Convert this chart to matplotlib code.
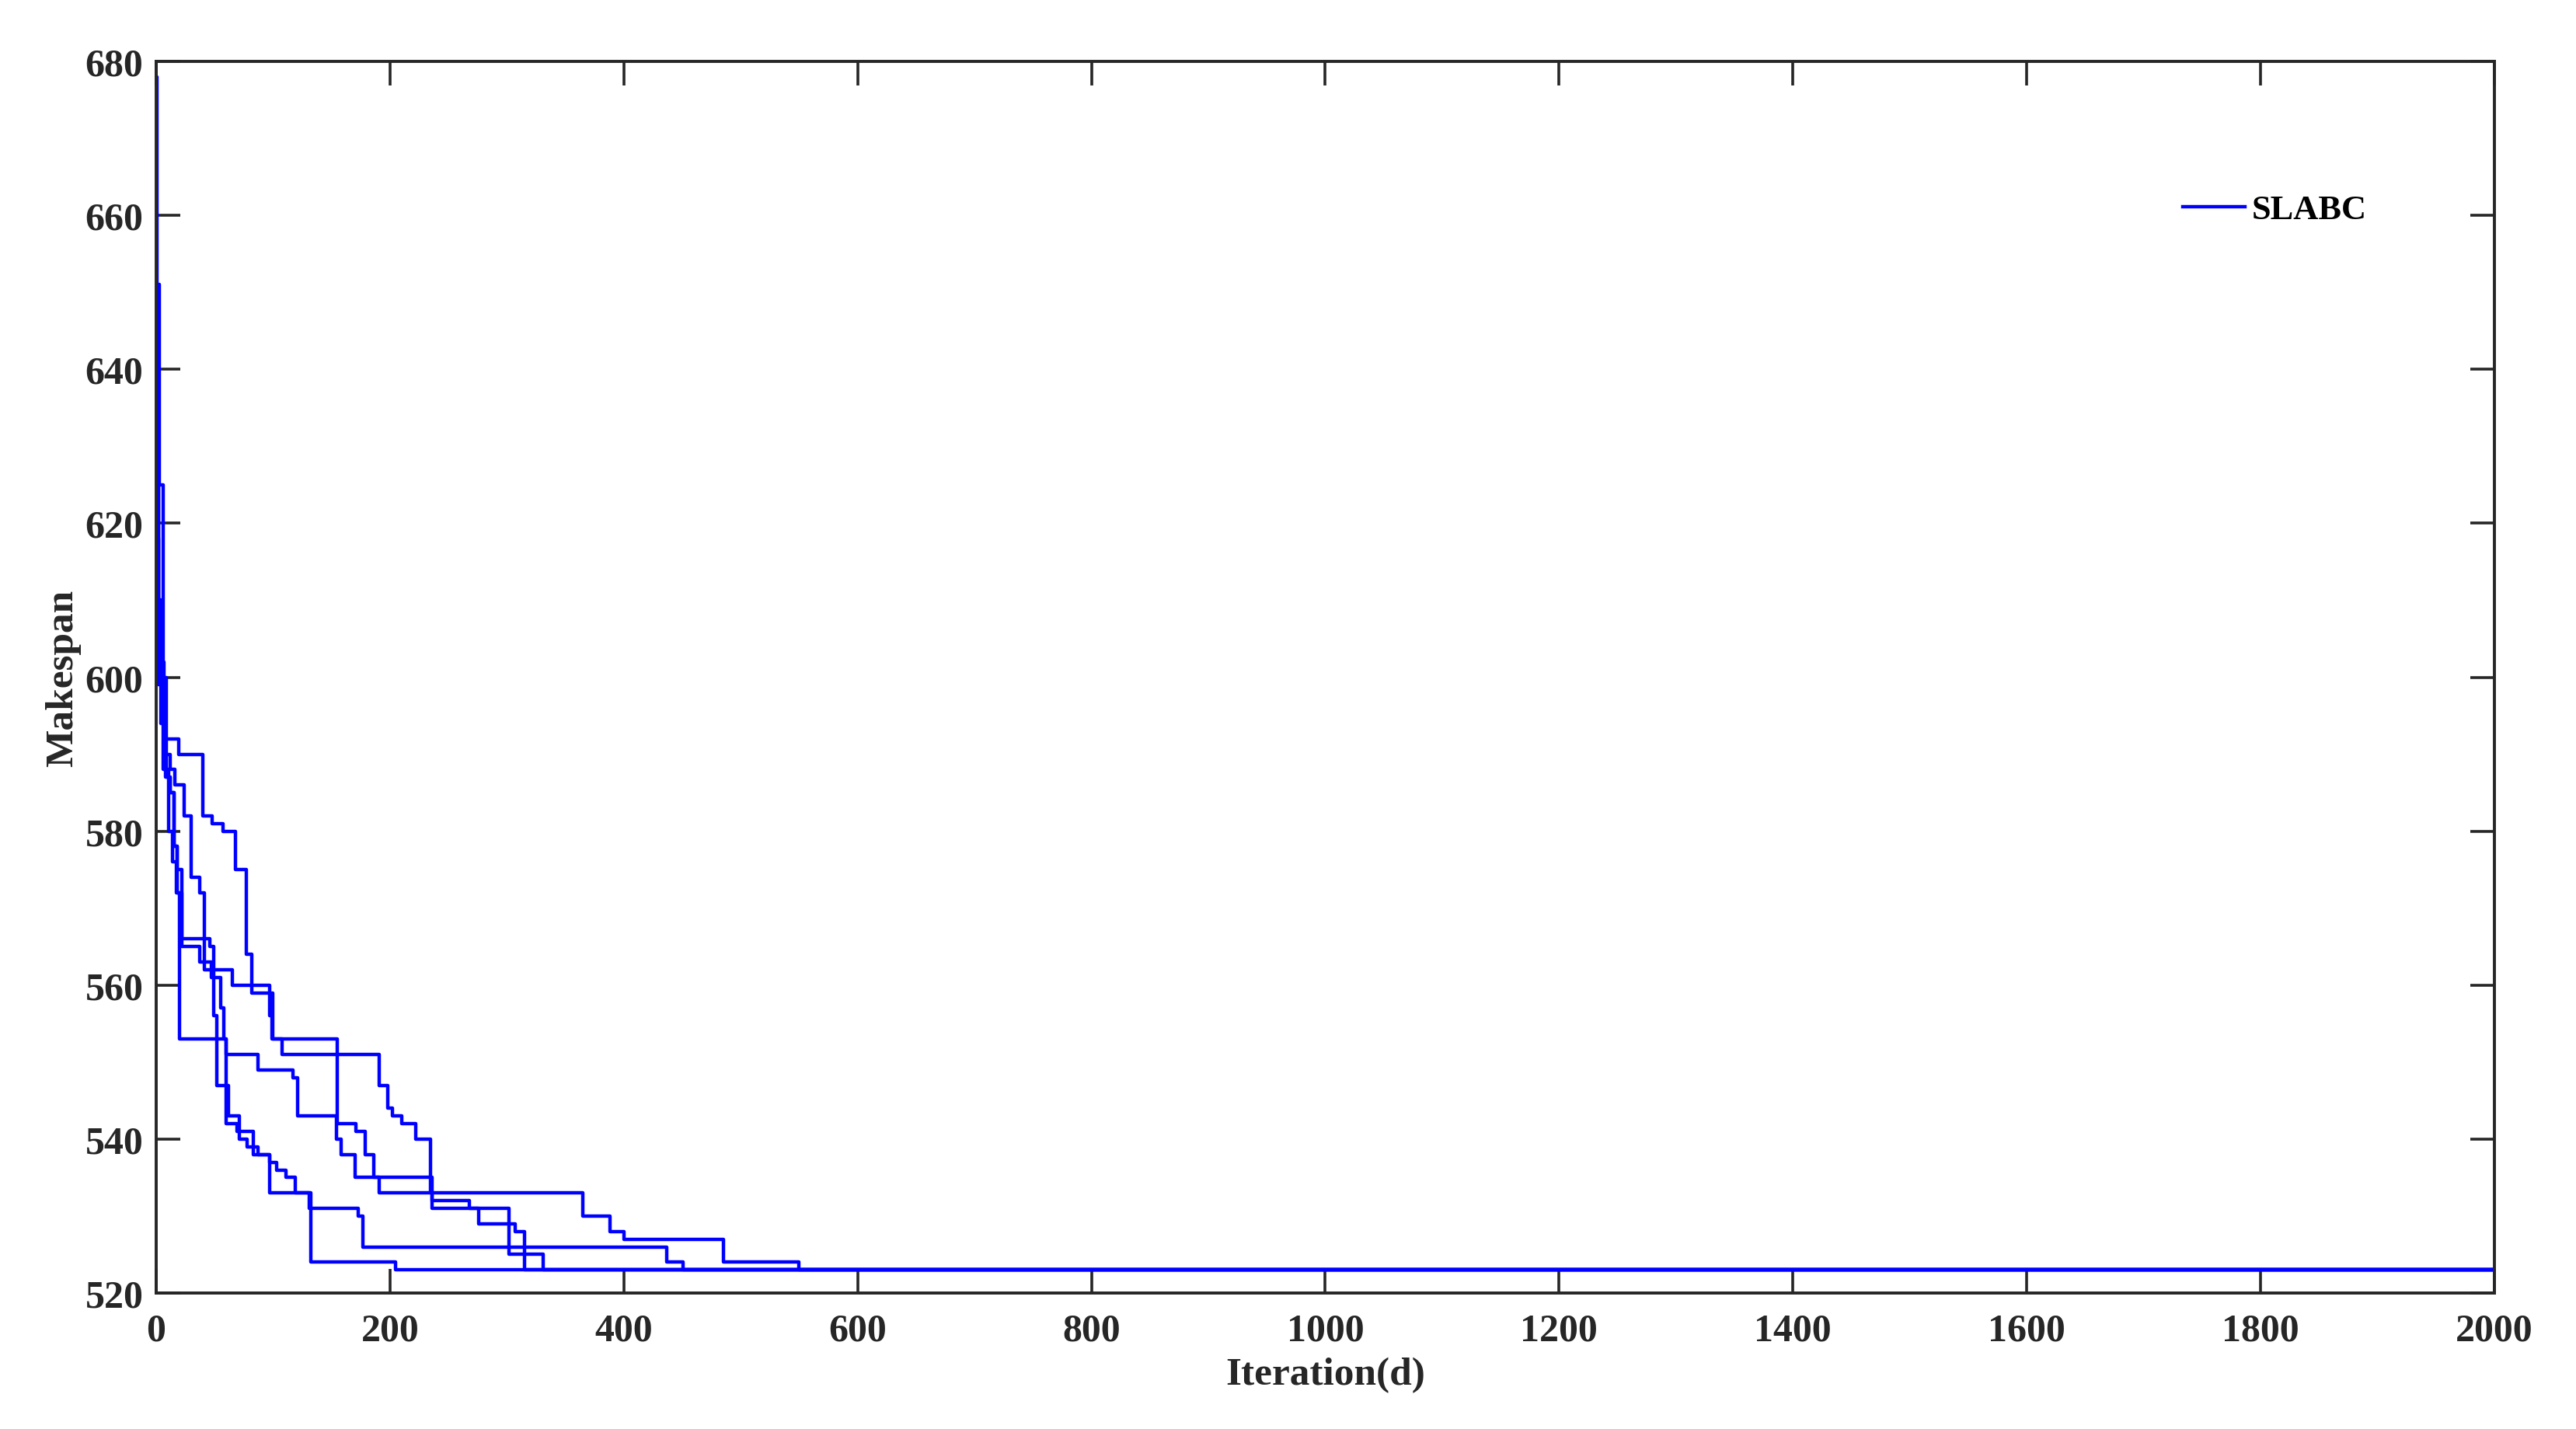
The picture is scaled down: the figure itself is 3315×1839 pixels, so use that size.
import numpy as np
import matplotlib
matplotlib.use('Agg')
import matplotlib.pyplot as plt

# ── Convergence runs (breakpoints of best makespan) ──────────────────────────
max_iter = 2000

run1_iter = [0, 1, 2, 5, 8, 11, 14, 17, 22, 46, 49, 52, 62, 71, 78, 87, 97, 132, 205]
run1_val  = [678, 640, 602, 599, 588, 580, 576, 572, 566, 565, 556, 547, 543, 540, 539, 538, 533, 524, 523]

run2_iter = [0, 3, 6, 9, 12, 15, 18, 22, 37, 47, 55, 58, 60, 69, 83, 97, 103, 111, 119, 131, 173, 177, 437, 451]
run2_val  = [651, 625, 600, 587, 585, 578, 575, 565, 563, 561, 557, 553, 542, 541, 538, 537, 536, 535, 533, 531, 530, 526, 524, 523]

run3_iter = [0, 2, 4, 7, 19, 40, 48, 57, 68, 77, 82, 100, 155, 171, 179, 186, 236, 302, 331]
run3_val  = [625, 610, 602, 592, 590, 582, 581, 580, 575, 564, 559, 553, 542, 541, 538, 535, 531, 525, 523]

run4_iter = [0, 2, 4, 8, 12, 16, 24, 30, 37, 41, 65, 97, 99, 108, 191, 198, 202, 210, 222, 235, 365, 388, 400, 485, 550]
run4_val  = [618, 602, 594, 590, 588, 586, 582, 574, 572, 562, 560, 556, 553, 551, 547, 544, 543, 542, 540, 533, 530, 528, 527, 524, 523]

run5_iter = [0, 2, 6, 8, 12, 15, 18, 20, 60, 87, 117, 121, 154, 158, 170, 191, 236, 268, 276, 307, 315]
run5_val  = [602, 599, 588, 587, 585, 578, 572, 553, 551, 549, 548, 543, 540, 538, 535, 533, 532, 531, 529, 528, 523]

runs = [(run1_iter, run1_val), (run2_iter, run2_val), (run3_iter, run3_val),
        (run4_iter, run4_val), (run5_iter, run5_val)]

xticks = list(range(0, 2001, 200))
yticks = list(range(520, 681, 20))

plt.rcParams['font.family'] = ['Liberation Serif', 'DejaVu Serif']
plt.rcParams['font.weight'] = 'bold'
axis_color = '#262626'

fig = plt.figure(figsize=(16.58, 9.2), dpi=200)
ax = fig.add_axes([0.0606, 0.0951, 0.9074, 0.8614])

for k, (it, val) in enumerate(runs):
    x = list(it) + [max_iter]
    y = list(val) + [val[-1]]
    ax.plot(x, y, color='#0000FF', lw=1.6, drawstyle='steps-post',
            label='SLABC' if k == 0 else None)

ax.set_xlim(0, 2000)
ax.set_ylim(520, 680)
ax.set_xticks(xticks)
ax.set_yticks(yticks)
ax.tick_params(direction='in', length=11, width=1.3, colors=axis_color,
               labelsize=18, top=True, right=True)
ax.tick_params(axis='x', pad=9)
ax.tick_params(axis='y', pad=6)
for lab in ax.get_xticklabels() + ax.get_yticklabels():
    lab.set_fontweight('bold')
for sp in ax.spines.values():
    sp.set_color(axis_color)
    sp.set_linewidth(1.4)

ax.set_xlabel('Iteration(d)', fontsize=18.5, fontweight='bold', color=axis_color, labelpad=4)
ax.set_ylabel('Makespan', fontsize=18.5, fontweight='bold', color=axis_color, labelpad=2)

leg = ax.legend(loc='center left', bbox_to_anchor=(0.8667, 0.8795), frameon=False,
                fontsize=16, handlelength=1.8, handletextpad=0.2,
                borderpad=0, borderaxespad=0)
for t in leg.get_texts():
    t.set_fontweight('bold')

fig.savefig('out.png', dpi=200)
